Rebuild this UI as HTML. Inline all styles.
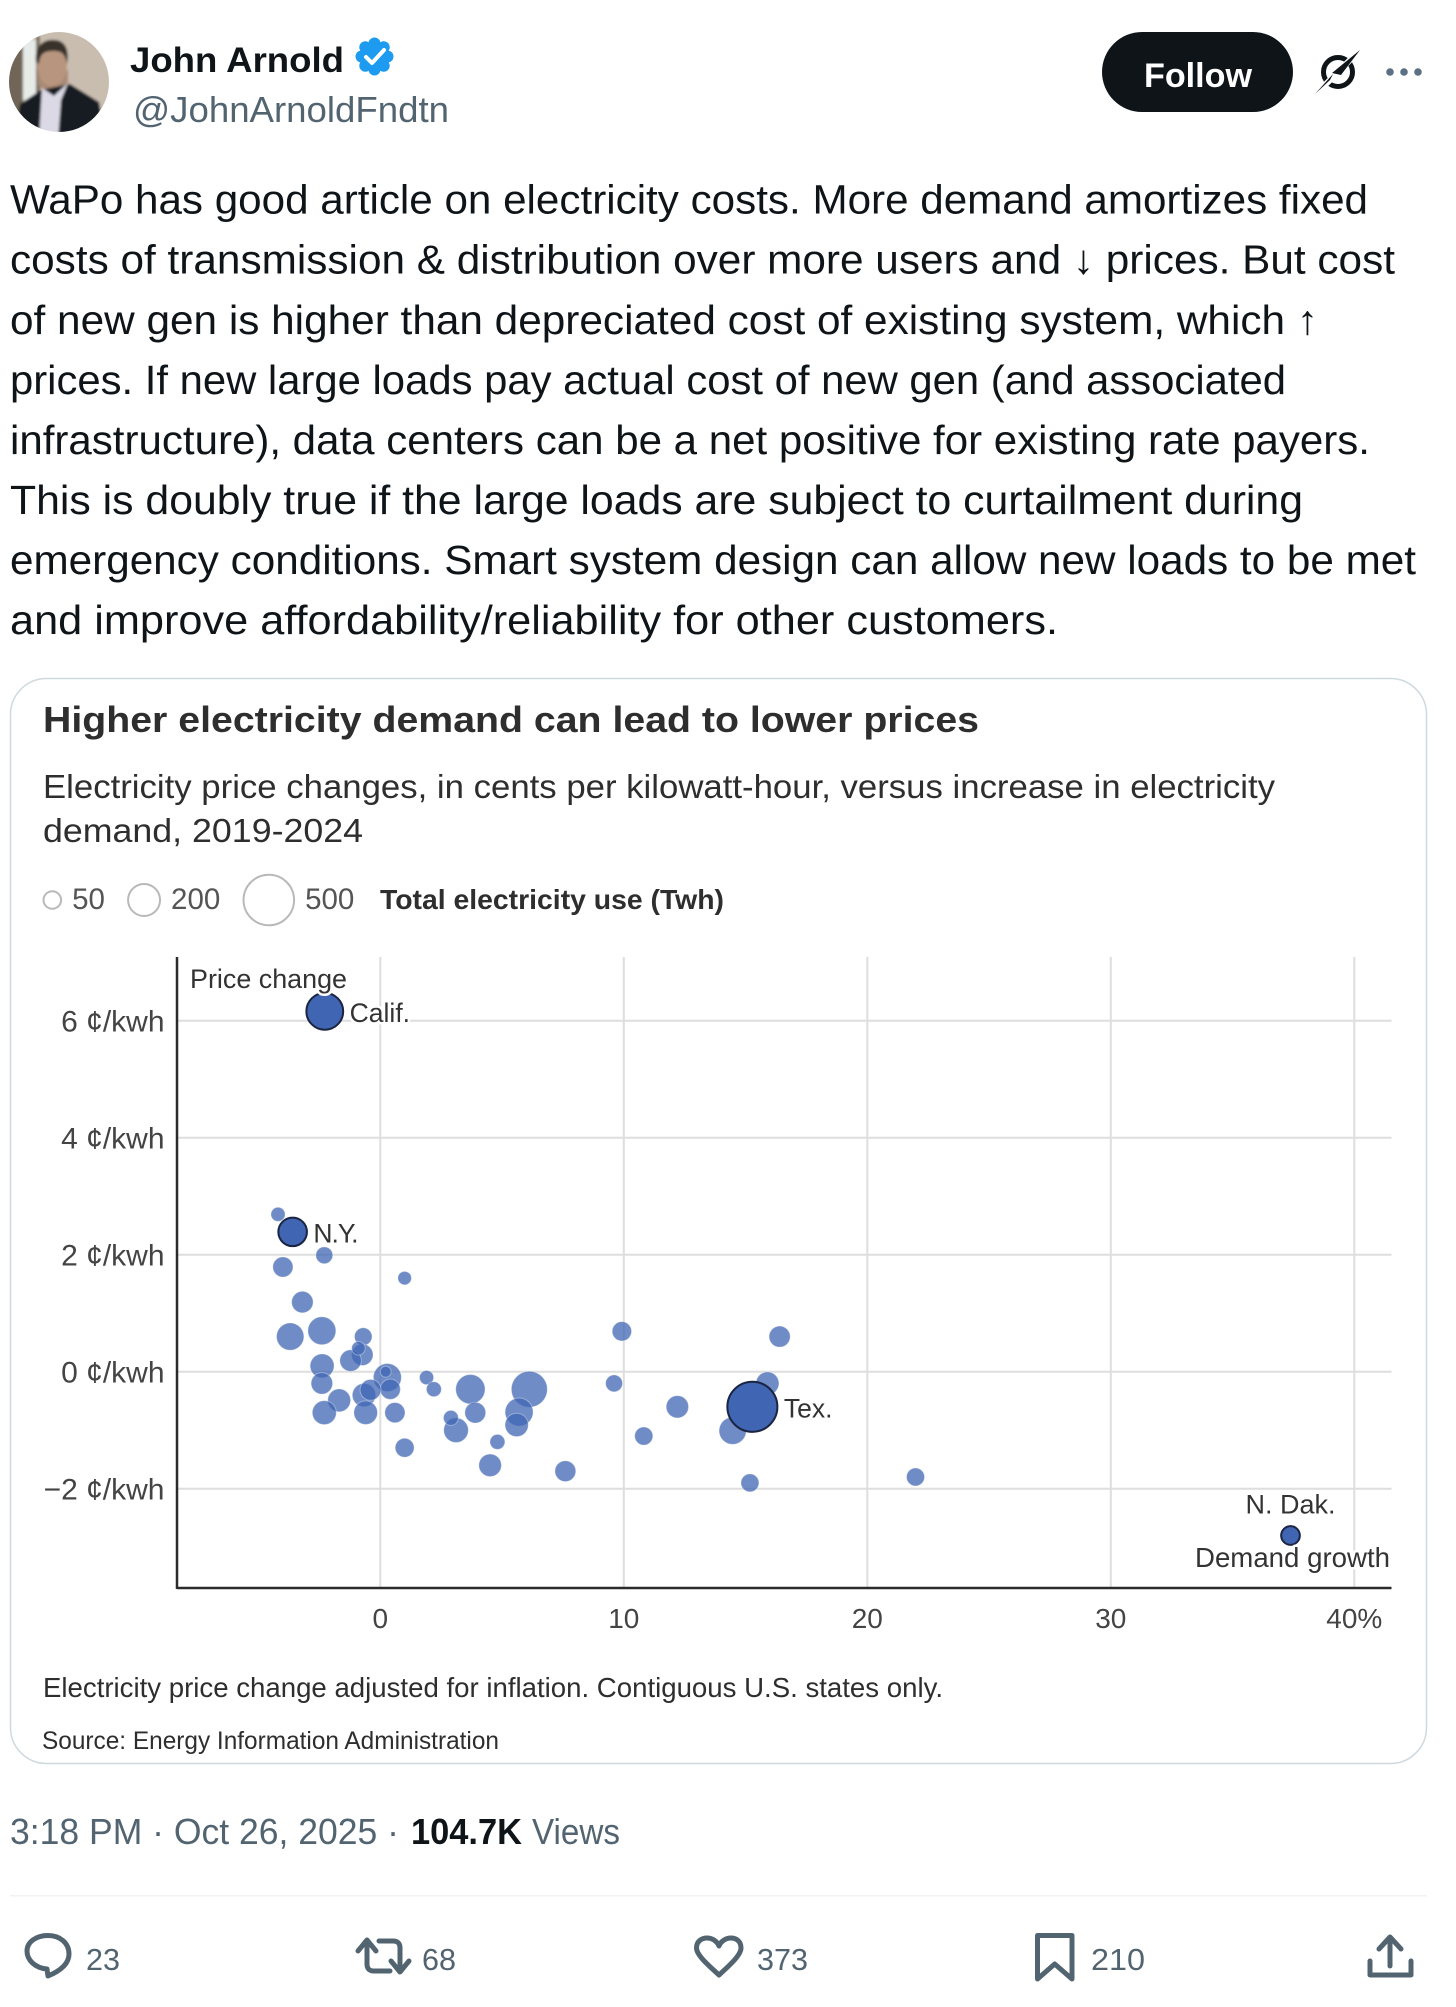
<!DOCTYPE html>
<html lang="en">
<head>
<meta charset="utf-8">
<title>John Arnold post: Higher electricity demand can lead to lower prices</title>
<style>
html,body{margin:0;padding:0;background:#fff;width:1456px;height:2007px;overflow:hidden}
svg{display:block}
text{font-family:"Liberation Sans",sans-serif;white-space:pre}
.tw{font-size:41px;fill:#0f1419}
.sec{fill:#536471}
.chart-t{fill:#2e2e2e}
.halo{paint-order:stroke;stroke:#fff;stroke-width:5px;stroke-linejoin:round}
</style>
</head>
<body>
<svg id="page" xmlns="http://www.w3.org/2000/svg" width="1456" height="2007" viewBox="0 0 1456 2007">
  <defs>
    <clipPath id="avatarClip"><circle cx="59" cy="82" r="50"/></clipPath>
    <filter id="soft" x="-5%" y="-5%" width="110%" height="110%"><feGaussianBlur stdDeviation="1.2"/></filter>
  </defs>
  <rect width="1456" height="2007" fill="#fff"/>

  <!-- header -->
  <g clip-path="url(#avatarClip)">
    <g filter="url(#soft)">
      <rect x="5" y="28" width="110" height="110" fill="#c9bdb0"/>
      <rect x="5" y="28" width="18" height="110" fill="#6f6557"/>
      <rect x="23" y="40" width="13" height="60" fill="#e6ebe8"/>
      <rect x="36" y="36" width="4" height="60" fill="#7a6e60"/>
      <path d="M38 84 L38 70 L68 70 L68 84 L62 92 L44 92Z" fill="#a98a76"/>
      <ellipse cx="52" cy="65" rx="15" ry="21" fill="#b8957f"/>
      <path d="M36 62 C34 44 46 39 54 40 C64 40 70 48 67 64 C65 54 62 51 54 51 C46 51 40 52 39 64Z" fill="#37302c"/>
      <path d="M14 140 L20 104 L41 90 L70 84 L99 102 L106 140Z" fill="#191b23"/>
      <path d="M39 140 L42 88 L54 96 L68 83 L61 100 L58 140Z" fill="#dcd9e6"/>
    </g>
  </g>
  <text x="130" y="72" font-size="35" font-weight="700" fill="#0f1419" textLength="214" lengthAdjust="spacingAndGlyphs">John Arnold</text>
  <g fill="#1d9bf0">
    <circle cx="374.500" cy="56.500" r="15"/>
    <circle cx="374.500" cy="43.500" r="6"/><circle cx="374.500" cy="69.500" r="6"/>
    <circle cx="361.500" cy="56.500" r="6"/><circle cx="387.500" cy="56.500" r="6"/>
    <circle cx="365.300" cy="47.300" r="6"/><circle cx="383.700" cy="47.300" r="6"/>
    <circle cx="365.300" cy="65.700" r="6"/><circle cx="383.700" cy="65.700" r="6"/>
    <path d="M366 57 L372 63 L384 50" fill="none" stroke="#fff" stroke-width="4" stroke-linecap="round" stroke-linejoin="round"/>
  </g>
  <text class="sec" x="133" y="122" font-size="36" textLength="316" lengthAdjust="spacingAndGlyphs">@JohnArnoldFndtn</text>

  <rect x="1102" y="32" width="191" height="80" rx="40" fill="#0f1419"/>
  <text x="1144" y="87" font-size="34" font-weight="700" fill="#fff" textLength="108" lengthAdjust="spacingAndGlyphs">Follow</text>
  <g>
    <circle cx="1338" cy="72" r="14.500" fill="none" stroke="#0f1419" stroke-width="5"/>
    <path d="M1362 48 L1315 95" stroke="#fff" stroke-width="6"/>
    <path d="M1360 50 L1332 73 L1341 75Z M1315 94 L1333 74 L1330 80Z" fill="#0f1419"/>
  </g>
  <g fill="#5b7083">
    <circle cx="1390" cy="72" r="3.800"/><circle cx="1404" cy="72" r="3.800"/><circle cx="1418" cy="72" r="3.800"/>
  </g>

  <!-- tweet body -->
  <g>
    <text class="tw" x="10" y="213.500" textLength="1358" lengthAdjust="spacingAndGlyphs">WaPo has good article on electricity costs. More demand amortizes fixed</text>
    <text class="tw" x="10" y="273.500" textLength="1385" lengthAdjust="spacingAndGlyphs">costs of transmission &amp; distribution over more users and ↓ prices. But cost</text>
    <text class="tw" x="10" y="334" textLength="1308" lengthAdjust="spacingAndGlyphs">of new gen is higher than depreciated cost of existing system, which ↑</text>
    <text class="tw" x="10" y="394" textLength="1276" lengthAdjust="spacingAndGlyphs">prices. If new large loads pay actual cost of new gen (and associated</text>
    <text class="tw" x="10" y="454" textLength="1360" lengthAdjust="spacingAndGlyphs">infrastructure), data centers can be a net positive for existing rate payers.</text>
    <text class="tw" x="10" y="514" textLength="1293" lengthAdjust="spacingAndGlyphs">This is doubly true if the large loads are subject to curtailment during</text>
    <text class="tw" x="10" y="574" textLength="1406" lengthAdjust="spacingAndGlyphs">emergency conditions. Smart system design can allow new loads to be met</text>
    <text class="tw" x="10" y="634" textLength="1048" lengthAdjust="spacingAndGlyphs">and improve affordability/reliability for other customers.</text>
  </g>

  <!-- chart card -->
  <rect x="10.500" y="678.500" width="1416" height="1085" rx="36" fill="#fff" stroke="#cfd9de" stroke-width="1.500"/>
  <text class="chart-t" x="43" y="732" font-size="36" font-weight="700" textLength="936" lengthAdjust="spacingAndGlyphs">Higher electricity demand can lead to lower prices</text>
  <g>
    <text class="chart-t" x="43" y="798" font-size="33" textLength="1232" lengthAdjust="spacingAndGlyphs">Electricity price changes, in cents per kilowatt-hour, versus increase in electricity</text>
    <text class="chart-t" x="43" y="842" font-size="33" textLength="320" lengthAdjust="spacingAndGlyphs">demand, 2019-2024</text>
  </g>

  <g id="sizeLegend"></g>
  <text class="chart-t" x="380" y="909" font-size="28" font-weight="700" textLength="344" lengthAdjust="spacingAndGlyphs">Total electricity use (Twh)</text>

  <g id="plot"></g>

  <text class="chart-t" x="43" y="1697" font-size="28" textLength="900" lengthAdjust="spacingAndGlyphs">Electricity price change adjusted for inflation. Contiguous U.S. states only.</text>
  <text class="chart-t" x="42" y="1749" font-size="25" textLength="457" lengthAdjust="spacingAndGlyphs">Source: Energy Information Administration</text>

  <!-- meta -->
  <text class="sec" x="10" y="1844" font-size="36" textLength="389" lengthAdjust="spacingAndGlyphs">3:18 PM · Oct 26, 2025 ·</text>
  <text x="411" y="1844" font-size="36" font-weight="700" fill="#0f1419" textLength="111" lengthAdjust="spacingAndGlyphs">104.7K</text>
  <text class="sec" x="532" y="1844" font-size="36" textLength="88" lengthAdjust="spacingAndGlyphs">Views</text>
  <rect x="10" y="1895" width="1417" height="1.500" fill="#eff3f4"/>

  <!-- actions -->
  <g fill="none" stroke="#536471" stroke-width="5" stroke-linejoin="round" stroke-linecap="round">
    <path d="M48 1935.500 C60 1935.500 69 1943 69 1954 C69 1964 60 1971 48 1976 L47 1969 C35 1968 27 1960 27 1951 C27 1942 36 1935.500 48 1935.500Z"/>
    <g>
      <path d="M367 1942 V1964 Q367 1971 374 1971 H390"/>
      <path d="M358 1951 L367 1940 L376 1951"/>
      <path d="M379 1941 H393 Q400 1941 400 1948 V1970"/>
      <path d="M391 1961 L400 1972 L409 1961"/>
    </g>
    <path d="M719 1975 C708 1965 696.500 1955 696.500 1948 C696.500 1941 702 1938 707 1938 C712 1938 717 1941 719 1946 C721 1941 726 1938 731 1938 C736 1938 741 1941 741 1948 C741 1955 730 1965 719 1975Z"/>
    <path d="M1037.500 1935.500 H1072 V1979 L1054.700 1964 L1037.500 1979Z"/>
    <g>
      <path d="M1390 1938 V1966"/>
      <path d="M1379 1949 L1390 1937 L1401 1949"/>
      <path d="M1370 1961 V1975 H1411 V1961"/>
    </g>
  </g>
  <g class="sec" font-size="31">
    <text x="86" y="1970" textLength="34" lengthAdjust="spacingAndGlyphs">23</text>
    <text x="422" y="1970" textLength="34" lengthAdjust="spacingAndGlyphs">68</text>
    <text x="757" y="1970" textLength="51" lengthAdjust="spacingAndGlyphs">373</text>
    <text x="1091" y="1970" textLength="54" lengthAdjust="spacingAndGlyphs">210</text>
  </g>
</svg>

<script>
// ---- chart data ----
const demandGrowth = [-4.2,-4.0,-2.3,1.0,-3.2,-3.7,-2.4,-0.7,-0.74,-1.22,-0.9,-2.39,-2.4,0.29,0.22,0.41,-0.67,-0.4,-1.69,-2.3,-0.6,0.6,1.0,1.9,2.2,3.7,3.9,3.11,2.9,4.81,4.51,6.12,5.7,5.6,7.6,9.92,9.6,10.82,16.4,15.9,14.47,12.2,15.18,21.98,-2.28,-3.6,15.28,37.38];
const priceChange  = [2.69,1.79,1.99,1.6,1.19,0.6,0.7,0.6,0.29,0.19,0.4,0.1,-0.2,-0.1,0,-0.3,-0.4,-0.31,-0.49,-0.7,-0.7,-0.7,-1.3,-0.1,-0.3,-0.3,-0.7,-1.0,-0.79,-1.2,-1.6,-0.3,-0.69,-0.91,-1.7,0.69,-0.2,-1.1,0.6,-0.2,-1.01,-0.6,-1.9,-1.8,6.16,2.39,-0.6,-2.8];
const totalUse     = [31,68,46,28,78,147,154,50,78,78,28,113,78,154,17,68,107,73,89,113,95,68,59,31,35,169,73,119,35,35,100,254,154,107,73,62,46,54,75,104,145,85,53,53,265,160,490,57];
const stateLabels  = ["","","","","","","","","","","","","","","","","","","","","","","","","","","","","","","","","","","","","","","","","","","","","Calif.","N.Y.","Tex.","N. Dak."];
const xTickValues  = [0,10,20,30,40];
const xTickLabels  = ["0","10","20","30","40%"];
const yTickValues  = [6,4,2,0,-2];
const yTickLabels  = ["6 ¢/kwh","4 ¢/kwh","2 ¢/kwh","0 ¢/kwh","−2 ¢/kwh"];
const legendValues = [50,200,500];

// ---- axis functions ----
function xScale(v){ return 380.3 + v * 24.35; }
function yScale(v){ return 1371.7 - v * 58.5; }
function rScale(v){ return 1.13 * Math.sqrt(v) + (v < 100 ? 0.8 : 0); }

const NS = 'http://www.w3.org/2000/svg';
function make(tag, parent, attrs, txt){
  const el = document.createElementNS(NS, tag);
  for (const k in attrs) el.setAttribute(k, attrs[k]);
  if (txt !== undefined) el.textContent = txt;
  parent.appendChild(el);
  return el;
}

const plot = document.getElementById('plot');
const legend = document.getElementById('sizeLegend');

// size legend
let legendCursor = 43.5;
legendValues.forEach(function(v){
  const r = rScale(v);
  const c = make('circle', legend, {cx: legendCursor + r, cy: 900, r: r, fill: 'none', stroke: '#b9b9b9', 'stroke-width': 2});
  
  
  const tx = legendCursor + 2 * r + 11;
  const t = make('text', legend, {x: tx, y: 909, 'font-size': 29.5, fill: '#555'}, String(v));
  
  
  legendCursor = tx + String(v).length * 16.5 + 23;
});

// grid lines
const plotTop = 957, plotBottom = 1588, plotLeft = 177, plotRight = 1391.5;
xTickValues.forEach(function(v, i){
  const g = make('line', plot, {x1: xScale(v), x2: xScale(v), y1: plotTop, y2: plotBottom, stroke: '#dedede', 'stroke-width': 2});
  
  
  const t = make('text', plot, {x: xScale(v), y: 1628, 'font-size': 28, 'text-anchor': 'middle', fill: '#444'}, xTickLabels[i]);
  
  
});
yTickValues.forEach(function(v, i){
  const g = make('line', plot, {x1: plotLeft, x2: plotRight, y1: yScale(v), y2: yScale(v), stroke: '#dedede', 'stroke-width': 2});
  
  
  const t = make('text', plot, {x: 164.5, y: yScale(v) + 11, 'font-size': 30, 'text-anchor': 'end', fill: '#444'}, yTickLabels[i]);
  
  
});

// axes
const yAxis = make('line', plot, {x1: plotLeft, x2: plotLeft, y1: plotTop, y2: plotBottom + 1, stroke: '#2b2b2b', 'stroke-width': 2.5});


const xAxis = make('line', plot, {x1: plotLeft, x2: plotRight, y1: plotBottom, y2: plotBottom, stroke: '#2b2b2b', 'stroke-width': 2.5});



// points
demandGrowth.forEach(function(v, i){
  const name = stateLabels[i];
  const hi = name !== '';
  const r = rScale(totalUse[i]);
  const p = make('circle', plot, {
    cx: xScale(v), cy: yScale(priceChange[i]), r: r,
    fill: hi ? '#3f65b3' : 'rgba(63,101,179,0.75)',
    stroke: hi ? '#1b2440' : 'rgba(255,255,255,0.35)',
    'stroke-width': hi ? 2 : 1
  });
  
  
});

// direct labels
demandGrowth.forEach(function(v, i){
  const name = stateLabels[i];
  if (name === '') return;
  const r = rScale(totalUse[i]);
  const cx = xScale(v), cy = yScale(priceChange[i]);
  const above = name === 'N. Dak.';
  const l = make('text', plot, {
    x: above ? cx : cx + r + 6.5,
    y: above ? cy - 22 : cy + 10.5,
    'font-size': above ? 27 : 26.5,
    'letter-spacing': name === 'N.Y.' ? -1 : 0,
    'text-anchor': above ? 'middle' : 'start',
    fill: '#333',
    class: 'halo'
  }, name);
  
  
});

// axis titles
const yTitle = make('text', plot, {x: 190, y: 988, 'font-size': 27, fill: '#333', class: 'halo', textLength: 157, lengthAdjust: 'spacingAndGlyphs'}, 'Price change');


const xTitle = make('text', plot, {x: 1195, y: 1567, 'font-size': 28, fill: '#333', class: 'halo', textLength: 195, lengthAdjust: 'spacingAndGlyphs'}, 'Demand growth');


</script>
</body>
</html>
